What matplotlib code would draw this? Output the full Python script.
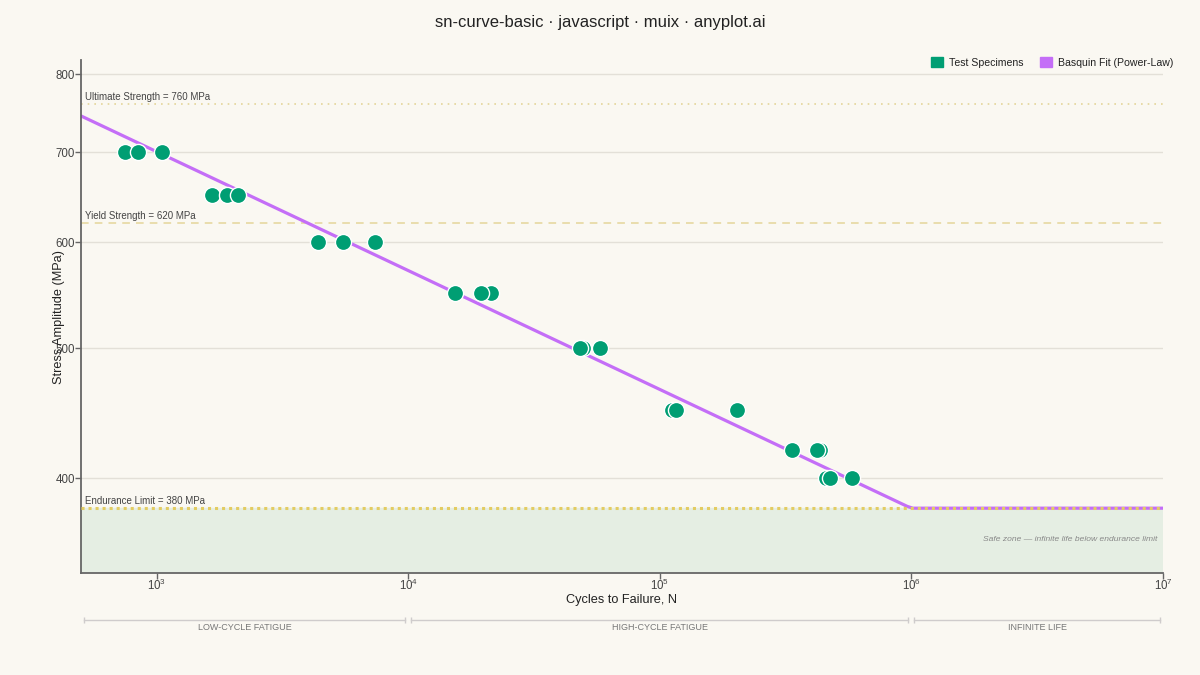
import matplotlib
matplotlib.use("Agg")
import matplotlib.pyplot as plt
import matplotlib.patches as mpatches
import matplotlib.ticker as mticker
import matplotlib.transforms as mtransforms
import numpy as np

plt.rcParams["font.family"] = ["Liberation Sans", "DejaVu Sans"]

# ── Data ──────────────────────────────────────────────────────────────────────
cycles = [748, 843, 1050,
          1659, 1904, 2106,
          4365, 5490, 7360,
          21300, 15300, 19400,
          49400, 48100, 57700,
          111700, 115900, 202400,
          335000, 432700, 421000,
          457000, 474000, 579000]
stress = [700, 700, 700,
          650, 650, 650,
          600, 600, 600,
          550, 550, 550,
          500, 500, 500,
          450, 450, 450,
          420, 420, 420,
          400, 400, 400]

# Basquin fit S = a * N^b (coefficients)
basquin_a = 1292.0
basquin_b = -0.0886

ultimate_strength = 760
yield_strength = 620
endurance_limit = 380

regions = ["LOW-CYCLE FATIGUE", "HIGH-CYCLE FATIGUE", "INFINITE LIFE"]
region_bounds = [500, 1e4, 1e6, 1e7]

y_ticks = [400, 500, 600, 700, 800]
x_ticks = [1e3, 1e4, 1e5, 1e6, 1e7]

# ── Style ─────────────────────────────────────────────────────────────────────
bg = "#faf8f2"
green = "#009e73"
purple = "#c46ef7"
ref_col = "#e4d59a"
endur_col = "#e3cc62"
text_col = "#444444"

fig = plt.figure(figsize=(12, 6.75), dpi=100)
fig.patch.set_facecolor(bg)
ax = fig.add_axes([81 / 1200, 1 - 573 / 675, 1082 / 1200, 513 / 675])
ax.set_facecolor(bg)

ax.set_xscale("log")
ax.set_yscale("log")
ax.set_xlim(500, 1e7)
ax.set_ylim(340, 820)

# safe zone
ax.axhspan(340, endurance_limit, color="#e5eee3", zorder=0)

# grid
for yt in y_ticks:
    ax.axhline(yt, color="#e3e0d8", linewidth=1, zorder=0.5)

# reference lines
ax.axhline(ultimate_strength, color=ref_col, linewidth=1.2,
           linestyle=(0, (1, 3)), zorder=1)
ax.axhline(yield_strength, color=ref_col, linewidth=1.1,
           linestyle=(0, (5, 4)), zorder=1)

# Basquin fit line
n_fit = np.geomspace(500, 1e7, 200)
s_fit = np.maximum(basquin_a * n_fit ** basquin_b, endurance_limit)
ax.plot(n_fit, s_fit, color=purple, linewidth=2.3, zorder=2,
        solid_capstyle="round", solid_joinstyle="round")

# endurance limit (drawn over the flat part of the fit)
ax.axhline(endurance_limit, color=endur_col, linewidth=2.2,
           linestyle=(0, (1, 1.3)), zorder=3)

# specimens
ax.scatter(cycles, stress, s=135, color=green, edgecolors="white",
           linewidths=1.0, zorder=4)

# reference labels
for val, lab in [(ultimate_strength, "Ultimate Strength = 760 MPa"),
                 (yield_strength, "Yield Strength = 620 MPa"),
                 (endurance_limit, "Endurance Limit = 380 MPa")]:
    ax.annotate(lab, xy=(0, val), xycoords=("axes fraction", "data"),
                xytext=(4, 2), textcoords="offset pixels",
                ha="left", va="bottom", fontsize=7.0, color=text_col)

ax.text(0.9945, 360, "Safe zone \u2014 infinite life below endurance limit",
        transform=mtransforms.blended_transform_factory(ax.transAxes, ax.transData),
        ha="right", va="center", fontsize=6.1, style="italic", color="#888888")

# ── Axes styling ──────────────────────────────────────────────────────────────
for side in ["top", "right"]:
    ax.spines[side].set_visible(False)
for side in ["left", "bottom"]:
    ax.spines[side].set_color("#666666")
    ax.spines[side].set_linewidth(1.3)

ax.yaxis.set_major_locator(mticker.FixedLocator(y_ticks))
ax.yaxis.set_major_formatter(mticker.FixedFormatter([str(v) for v in y_ticks]))
ax.yaxis.set_minor_locator(mticker.NullLocator())
ax.xaxis.set_major_locator(mticker.FixedLocator(x_ticks))
ax.xaxis.set_major_formatter(mticker.LogFormatterSciNotation())
ax.xaxis.set_minor_locator(mticker.NullLocator())
ax.tick_params(axis="both", colors="#666666", labelcolor=text_col,
               labelsize=8.3, length=4, width=1)
ax.tick_params(axis="x", pad=-0.8)
ax.tick_params(axis="y", pad=0.5)

ax.set_xlabel("Cycles to Failure, N", fontsize=9.2, color="#222222")
ax.xaxis.set_label_coords(0.5, -0.04)
ax.set_ylabel("Stress Amplitude (MPa)", fontsize=9.2, color="#222222")
ax.yaxis.set_label_coords(-0.015, 0.5)

# ── Regime brackets below the axis ────────────────────────────────────────────
blend = mtransforms.blended_transform_factory(ax.transData, ax.transAxes)
gap = 1.028
for i, name in enumerate(regions):
    x0 = region_bounds[i] * gap
    x1 = region_bounds[i + 1] / gap
    ax.plot([x0, x1], [-0.0916, -0.0916], transform=blend, clip_on=False,
            color="#cfcccc", linewidth=1)
    ax.plot([x0, x1], [-0.0916, -0.0916], transform=blend, clip_on=False,
            linestyle="none", marker="|", markersize=5, color="#cfcccc")
    xc = np.sqrt(region_bounds[i] * region_bounds[i + 1])
    ax.text(xc, -0.107, name, transform=blend, ha="center", va="center",
            fontsize=6.5, color="#777777")

# ── Title and legend ──────────────────────────────────────────────────────────
fig.text(0.5, 1 - 22 / 675, "sn-curve-basic \u00b7 javascript \u00b7 muix \u00b7 anyplot.ai",
         ha="center", va="center", fontsize=12, color="#222222")

handles = [mpatches.Patch(color=green, label="Test Specimens"),
           mpatches.Patch(color=purple, label="Basquin Fit (Power-Law)")]
fig.legend(handles=handles, loc="upper right",
           bbox_to_anchor=(1178 / 1200, 1 - 53 / 675), ncol=2, frameon=False,
           fontsize=7.6, handlelength=1.1, handleheight=1.1,
           handletextpad=0.6, columnspacing=1.6, borderaxespad=0,
           labelcolor="#222222")

plt.savefig("out.png", dpi=100, facecolor=fig.get_facecolor())
